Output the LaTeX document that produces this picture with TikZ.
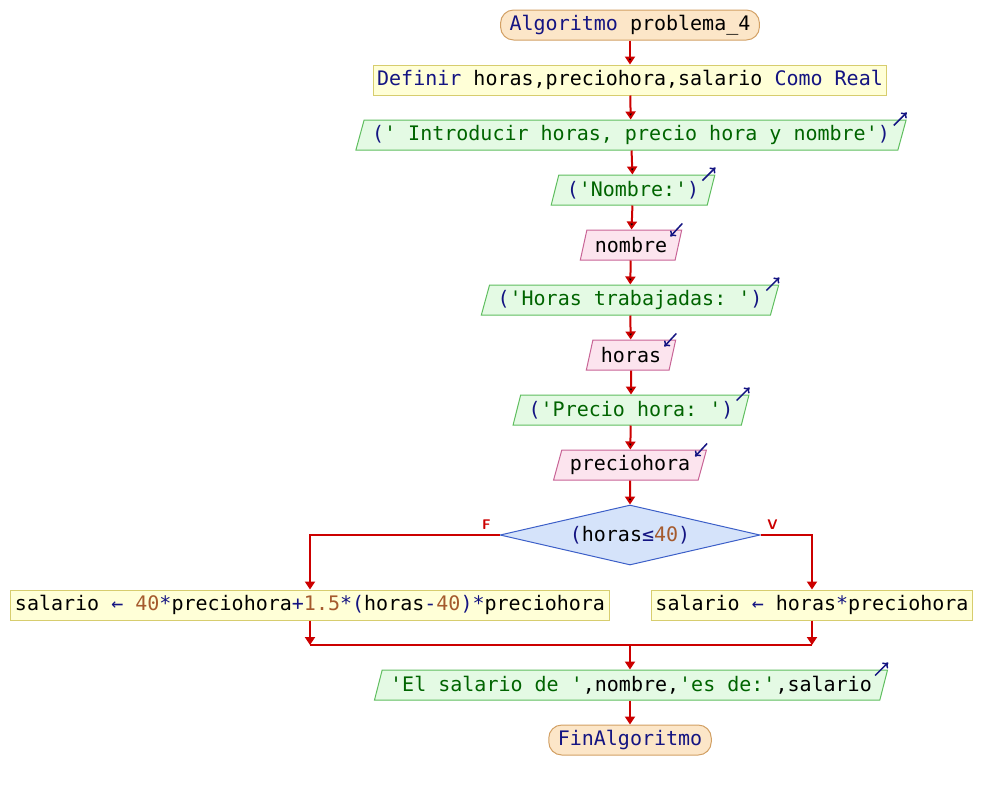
\documentclass[tikz,border=0pt]{standalone}
\usepackage{fontspec}
\setmonofont{DejaVu Sans Mono}
\usepackage{tikz}
\usetikzlibrary{shapes.geometric,arrows.meta}

\definecolor{kwblue}{RGB}{20,20,130}
\definecolor{strgreen}{RGB}{0,100,0}
\definecolor{numbrown}{RGB}{165,90,45}
\definecolor{flowred}{RGB}{204,0,0}
\definecolor{termfill}{RGB}{252,230,200}
\definecolor{termline}{RGB}{210,160,100}
\definecolor{procfill}{RGB}{255,255,215}
\definecolor{procline}{RGB}{215,205,110}
\definecolor{outfill}{RGB}{228,250,228}
\definecolor{outline}{RGB}{95,190,95}
\definecolor{infill}{RGB}{252,228,238}
\definecolor{inline}{RGB}{200,100,150}
\definecolor{condfill}{RGB}{213,227,250}
\definecolor{condline}{RGB}{60,95,200}

\newcommand{\kw}[1]{\textcolor{kwblue}{#1}}
\newcommand{\strg}[1]{\textcolor{strgreen}{#1}}
\newcommand{\numb}[1]{\textcolor{numbrown}{#1}}

\tikzset{
  term/.style={draw=termline, fill=termfill, line width=1pt, rounded corners=13pt,
    minimum height=30pt, inner xsep=9pt, inner ysep=0pt},
  proc/.style={draw=procline, fill=procfill, line width=1pt,
    minimum height=30pt, inner xsep=4pt, inner ysep=0pt},
  outp/.style={trapezium, trapezium left angle=67, trapezium right angle=113,
    trapezium stretches=true, draw=outline, fill=outfill, line width=1pt,
    minimum height=30pt, inner xsep=8pt, inner ysep=0pt},
  inp/.style={outp, draw=inline, fill=infill},
  cond/.style={diamond, aspect=4.33, draw=condline, fill=condfill, line width=1pt,
    minimum width=260pt, minimum height=60pt, inner sep=0pt},
  flow/.style={draw=flowred, line width=2pt, -{Triangle[length=8pt,width=10pt]}},
  link/.style={draw=flowred, line width=2pt},
  ioarrow/.style={draw=kwblue, line width=1.5pt, -{To[length=5pt,width=8pt]}},
  lbl/.style={text=flowred, font=\sffamily\bfseries\fontsize{14}{16}\selectfont}
}

\begin{document}
\begin{tikzpicture}[x=1pt, y=-1pt, font=\ttfamily\fontsize{20}{24}\selectfont]
\useasboundingbox (0,0) rectangle (984,790);

\node[term] (start) at (630,25) {\kw{Algoritmo} problema\_4};
\node[proc] (def) at (630,80) {\kw{Definir} horas,preciohora,salario \kw{Como Real}};
\node[outp] (intro) at (631,135) {\kw{(}\strg{' Introducir horas, precio hora y nombre'}\kw{)}};
\node[outp] (pnom) at (633,190) {\kw{(}\strg{'Nombre:'}\kw{)}};
\node[inp] (nombre) at (631,245) {nombre};
\node[outp] (phoras) at (630,300) {\kw{(}\strg{'Horas trabajadas: '}\kw{)}};
\node[inp] (horas) at (631,355) {horas};
\node[outp] (pprecio) at (631,410) {\kw{(}\strg{'Precio hora: '}\kw{)}};
\node[inp] (precio) at (630,465) {preciohora};
\node[cond] (test) at (630,535) {\kw{(}horas\kw{≤}\numb{40}\kw{)}};
\node[proc] (extra) at (310,605) {salario \kw{←} \numb{40}\kw{*}preciohora\kw{+}\numb{1.5}\kw{*(}horas\kw{-}\numb{40}\kw{)*}preciohora};
\node[proc] (normal) at (812,605) {salario \kw{←} horas\kw{*}preciohora};
\node[outp] (result) at (631,685) {\strg{'El salario de '},nombre,\strg{'es de:'},salario};
\node[term] (fin) at (630,740) {\kw{FinAlgoritmo}};

% lectura / escritura
\foreach \n in {intro,pnom,phoras,pprecio,result}
  \draw[ioarrow] ([shift={(-13,6)}]\n.top right corner) -- ++(13,-13);
\foreach \n in {nombre,horas,precio}
  \draw[ioarrow] ([shift={(0,-6)}]\n.top right corner) -- ++(-12,13);

\path[flow]
(start) edge (def)
(def) edge (intro)
(intro) edge (pnom)
(pnom) edge (nombre)
(nombre) edge (phoras)
(phoras) edge (horas)
(horas) edge (pprecio)
(pprecio) edge (precio)
(precio) edge (test)
;

\draw[flow] (test.west) -| (extra.north);
\draw[flow] (test.east) -| (normal.north);
\node[lbl] at ([shift={(-13,-10)}]test.west) {F};
\node[lbl] at ([shift={(12,-10)}]test.east) {V};

\coordinate (join) at (630,645);
\draw[flow] (extra.south) -- (extra.south |- join);
\draw[flow] (normal.south) -- (normal.south |- join);
\draw[link] (extra.south |- join) -- (normal.south |- join);
\draw[flow] (join) -- (join |- result.north);
\draw[flow] (result.south -| join) -- (join |- fin.north);
\end{tikzpicture}
\end{document}
